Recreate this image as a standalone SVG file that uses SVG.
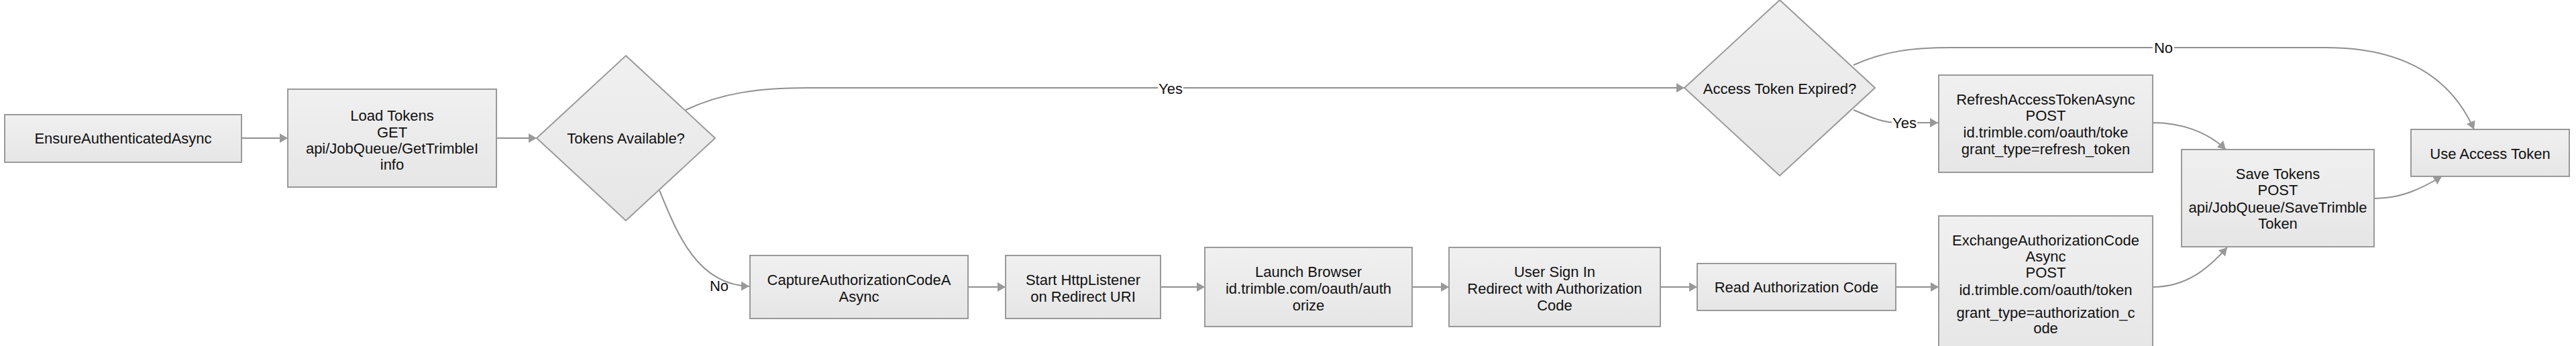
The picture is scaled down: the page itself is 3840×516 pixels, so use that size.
<svg xmlns="http://www.w3.org/2000/svg" width="3840" height="516" viewBox="0 0 3840 516">
<defs>
<linearGradient id="g" x1="0" y1="0" x2="0" y2="1">
<stop offset="0" stop-color="#f0f0f0"/>
<stop offset="1" stop-color="#e6e6e6"/>
</linearGradient>
<marker id="ah" markerWidth="12" markerHeight="14" refX="12" refY="7" orient="auto" markerUnits="userSpaceOnUse">
<path d="M0,0 L12,7 L0,14 z" fill="#999999"/>
</marker>
<style>
.n{fill:url(#g);stroke:#999999;stroke-width:2}
.t{font-family:"Liberation Sans",Arial,sans-serif;font-size:22px;fill:#111111;text-anchor:middle}
.c{fill:none;stroke:#8f8f8f;stroke-width:2;marker-end:url(#ah)}
.cl{fill:none;stroke:#8f8f8f;stroke-width:2}
.lb{fill:#ffffff}
</style>
</defs>
<rect width="3840" height="516" fill="#ffffff"/>
<g id="connectors">
<path class="c" d="M360,206 L429,206"/>
<path class="c" d="M740,206 L800,206"/>
<path class="c" d="M1022,164 C1075,139 1130,131 1204,131 L2511,131"/>
<path class="c" d="M983,284 C1010,350 1040,425 1117,427"/>
<path class="c" d="M1443,428 L1499,428"/>
<path class="c" d="M1730,428 L1796,428"/>
<path class="c" d="M2105,428 L2160,428"/>
<path class="c" d="M2475,428 L2530,428"/>
<path class="c" d="M2826,428 L2890,428"/>
<path class="c" d="M2763,97 C2810,76 2850,71 2909,71 L3467,71 C3600,71 3660,130 3688,193"/>
<path class="c" d="M2763,164 C2790,175 2805,183 2830,183 L2889,183"/>
<path class="c" d="M3209,183 C3250,183 3290,196 3318,223"/>
<path class="c" d="M3209,428 C3260,428 3292,400 3320,369"/>
<path class="c" d="M3539,296 C3580,296 3610,281 3640,263"/>
<rect class="lb" x="1726" y="120" width="38" height="24"/>
<text class="t" x="1745" y="140">Yes</text>
<rect class="lb" x="3209" y="59" width="32" height="24"/>
<text class="t" x="3225" y="79">No</text>
<text class="t" x="1072" y="434">No</text>
<rect class="lb" x="2820" y="171" width="38" height="24"/>
<text class="t" x="2839" y="191">Yes</text>
</g>
<g id="ensure">
<rect class="n" x="7" y="171" width="353" height="71"/>
<text class="t" x="183.5" y="214">EnsureAuthenticatedAsync</text>
</g>
<g id="load">
<rect class="n" x="429" y="133" width="311" height="146"/>
<text class="t" x="584.5" y="180">Load Tokens</text>
<text class="t" x="584.5" y="205">GET</text>
<text class="t" x="584.5" y="229">api/JobQueue/GetTrimbleI</text>
<text class="t" x="584.5" y="253">info</text>
</g>
<g id="tokensAvailable">
<polygon class="n" points="933,83 1066,206 933,329 800,206"/>
<text class="t" x="933" y="214">Tokens Available?</text>
</g>
<g id="capture">
<rect class="n" x="1118" y="381" width="325" height="94"/>
<text class="t" x="1280.5" y="425">CaptureAuthorizationCodeA</text>
<text class="t" x="1280.5" y="450">Async</text>
</g>
<g id="listener">
<rect class="n" x="1499" y="381" width="231" height="94"/>
<text class="t" x="1614.5" y="425">Start HttpListener</text>
<text class="t" x="1614.5" y="450">on Redirect URI</text>
</g>
<g id="launch">
<rect class="n" x="1796" y="369" width="309" height="118"/>
<text class="t" x="1950.5" y="413">Launch Browser</text>
<text class="t" x="1950.5" y="438">id.trimble.com/oauth/auth</text>
<text class="t" x="1950.5" y="463">orize</text>
</g>
<g id="signin">
<rect class="n" x="2160" y="369" width="315" height="118"/>
<text class="t" x="2317.5" y="413">User Sign In</text>
<text class="t" x="2317.5" y="438">Redirect with Authorization</text>
<text class="t" x="2317.5" y="463">Code</text>
</g>
<g id="readCode">
<rect class="n" x="2530" y="393" width="296" height="70"/>
<text class="t" x="2678" y="436">Read Authorization Code</text>
</g>
<g id="exchange">
<rect class="n" x="2890" y="322" width="319" height="212"/>
<text class="t" x="3049.5" y="366">ExchangeAuthorizationCode</text>
<text class="t" x="3049.5" y="390">Async</text>
<text class="t" x="3049.5" y="414">POST</text>
<text class="t" x="3049.5" y="440">id.trimble.com/oauth/token</text>
<text class="t" x="3049.5" y="474">grant_type=authorization_c</text>
<text class="t" x="3049.5" y="497">ode</text>
</g>
<g id="expired">
<polygon class="n" points="2653,0 2795,131 2653,262 2511,131"/>
<text class="t" x="2653" y="140">Access Token Expired?</text>
</g>
<g id="refresh">
<rect class="n" x="2890" y="112" width="319" height="145"/>
<text class="t" x="3049.5" y="156">RefreshAccessTokenAsync</text>
<text class="t" x="3049.5" y="180">POST</text>
<text class="t" x="3049.5" y="205">id.trimble.com/oauth/toke</text>
<text class="t" x="3049.5" y="230">grant_type=refresh_token</text>
</g>
<g id="save">
<rect class="n" x="3252" y="223" width="287" height="145"/>
<text class="t" x="3395.5" y="267">Save Tokens</text>
<text class="t" x="3395.5" y="291">POST</text>
<text class="t" x="3395.5" y="317">api/JobQueue/SaveTrimble</text>
<text class="t" x="3395.5" y="341">Token</text>
</g>
<g id="useToken">
<rect class="n" x="3594" y="193" width="236" height="70"/>
<text class="t" x="3712" y="237">Use Access Token</text>
</g>
</svg>
